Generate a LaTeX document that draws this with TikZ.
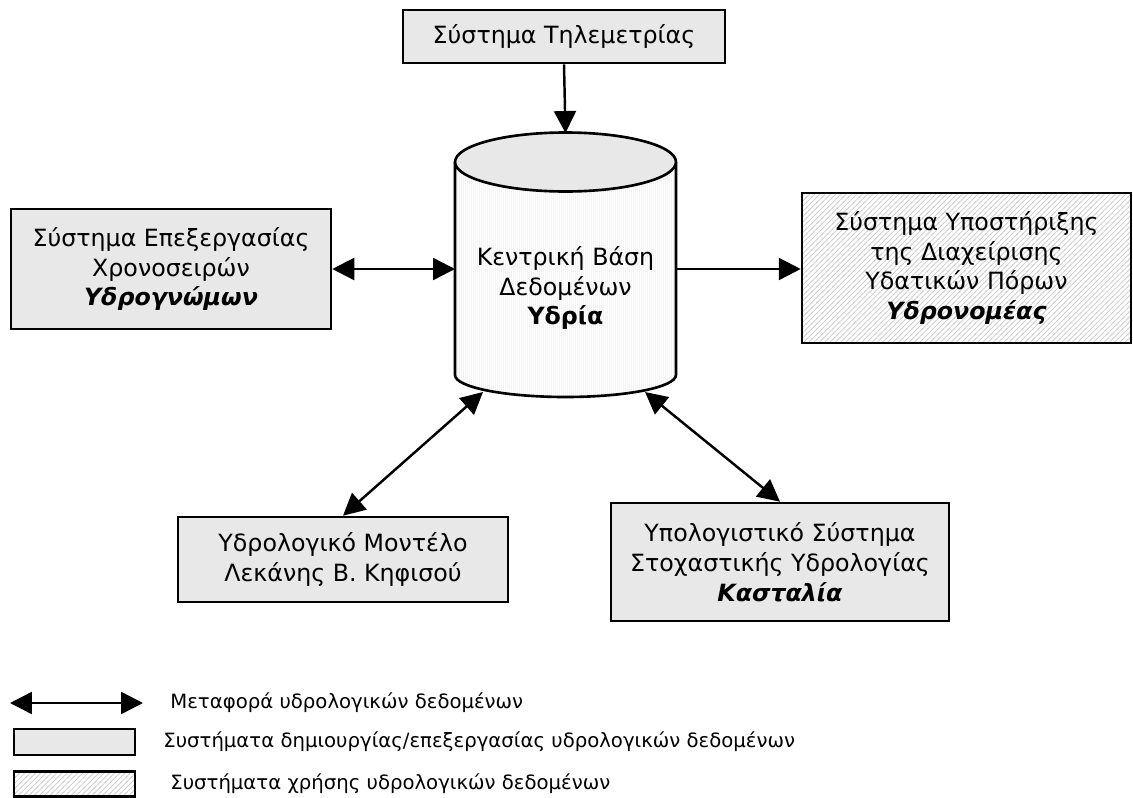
\documentclass[tikz,border=0pt]{standalone}
\usepackage{fontspec}
\setmainfont{DejaVu Sans}
\usetikzlibrary{arrows.meta, patterns}
\pgfdeclarepatternformonly{finevlines}{\pgfpointorigin}{\pgfqpoint{1.2pt}{1pt}}{\pgfqpoint{1.2pt}{1pt}}{%
    \pgfsetlinewidth{0.3pt}\pgfpathmoveto{\pgfqpoint{0.6pt}{0pt}}\pgfpathlineto{\pgfqpoint{0.6pt}{1pt}}\pgfusepath{stroke}}
\pgfdeclarepatternformonly{hatchlines}{\pgfqpoint{-0.5pt}{-0.5pt}}{\pgfqpoint{3.5pt}{3.5pt}}{\pgfqpoint{3pt}{3pt}}{%
    \pgfsetlinewidth{0.4pt}\pgfpathmoveto{\pgfqpoint{-0.5pt}{-0.5pt}}\pgfpathlineto{\pgfqpoint{3.5pt}{3.5pt}}\pgfusepath{stroke}}
\definecolor{boxgray}{RGB}{232,232,232}
\definecolor{hatchgray}{RGB}{205,205,205}
\tikzset{
    sysbox/.style={draw, line width=1.5pt, fill=boxgray, align=center, inner sep=0pt,
        font=\fontsize{13.5}{17}\selectfont},
    usebox/.style={draw, line width=1.5pt, preaction={fill=white}, pattern=hatchlines,
        pattern color=hatchgray, align=center, inner sep=0pt, font=\fontsize{13.5}{17}\selectfont},
    link/.style={line width=1.4pt, -{Triangle[length=12.5pt, width=12.5pt]}},
    duplex/.style={line width=1.4pt, {Triangle[length=12.5pt, width=12.5pt]}-{Triangle[length=12.5pt, width=12.5pt]}},
    legendtext/.style={anchor=west, inner sep=0pt, font=\fontsize{11.2}{13}\selectfont}
}

\begin{document}
\begin{tikzpicture}[x=0.02cm, y=-0.02cm]
        \useasboundingbox (0,0) rectangle (1133,798);
        % central database
        \fill[white] (455,162) -- (455,375) arc[start angle=180, end angle=360, x radius=2.21cm, y radius=0.44cm] -- (676,162) -- cycle;
        \fill[pattern=finevlines, pattern color=gray!30] (455,162) -- (455,375) arc[start angle=180, end angle=360, x radius=2.21cm, y radius=0.44cm] -- (676,162) -- cycle;
        \draw[line width=1.5pt] (455,162) -- (455,375) arc[start angle=180, end angle=360, x radius=2.21cm, y radius=0.44cm] -- (676,162);
        \draw[line width=1.5pt, fill=boxgray] (565.5,162) ellipse[x radius=2.21cm, y radius=0.59cm];
        \node[align=center, font=\fontsize{13.5}{17}\selectfont] (db) at (565.5,288) {Κεντρική Βάση\\Δεδομένων\\\textbf{Υδρία}};
        \coordinate (dbtop) at (565.5,133);
        \coordinate (dbleft) at (455,269);
        \coordinate (dbright) at (676,269);
        \coordinate (dbsw) at (483,392);
        \coordinate (dbse) at (645,392);

        % systems
        \node[sysbox, minimum width=6.44cm, minimum height=1.06cm] (tele) at (564,36.5) {Σύστημα Τηλεμετρίας};
        \node[sysbox, minimum width=6.4cm, minimum height=2.4cm] (epex) at (171,269) {Σύστημα Επεξεργασίας\\Χρονοσειρών\\\textbf{\textit{Υδρογνώμων}}};
        \node[usebox, minimum width=6.58cm, minimum height=3cm] (ydro) at (966.5,268) {Σύστημα Υποστήριξης\\της Διαχείρισης\\Υδατικών Πόρων\\\textbf{\textit{Υδρονομέας}}};
        \node[sysbox, minimum width=6.6cm, minimum height=1.7cm] (model) at (343,559.5) {Υδρολογικό Μοντέλο\\Λεκάνης Β. Κηφισού};
        \node[sysbox, minimum width=6.76cm, minimum height=2.36cm] (kast) at (780,562) {Υπολογιστικό Σύστημα\\Στοχαστικής Υδρολογίας\\\textbf{\textit{Κασταλία}}};

        \draw[link] (tele.south) -- (dbtop);
        \draw[duplex] (epex.east) -- (dbleft);
        \draw[link] (dbright) -- (dbright -| ydro.west);
        \draw[duplex] (model.north) -- (dbsw);
        \draw[duplex] (kast.north) -- (dbse);

        % legend
        \coordinate (lga) at (10,703);
        \coordinate (lgb) at (143,703);
        \draw[duplex] (lga) -- (lgb);
        \node[legendtext] (lgtxa) at (170,703) {Μεταφορά υδρολογικών δεδομένων};
        \node[sysbox, minimum width=2.42cm, minimum height=0.52cm] (lgbox) at (74.5,742) {};
        \node[legendtext] (lgtxb) at (163,742) {Συστήματα δημιουργίας/επεξεργασίας υδρολογικών δεδομένων};
        \node[usebox, minimum width=2.42cm, minimum height=0.5cm] (lghatch) at (74.5,784) {};
        \node[legendtext] (lgtxc) at (170,784) {Συστήματα χρήσης υδρολογικών δεδομένων};
\end{tikzpicture}
\end{document}
